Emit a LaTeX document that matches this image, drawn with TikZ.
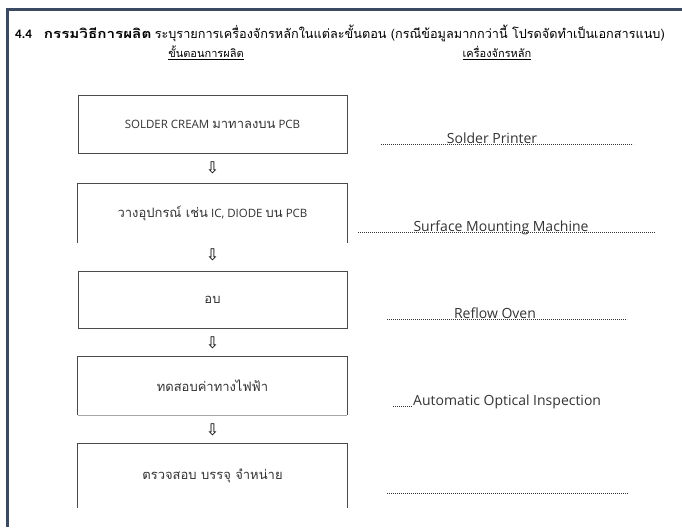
\documentclass[tikz,border=0pt]{standalone}
\usepackage{fontspec}
\usepackage{graphicx}
\setmainfont{Open Sans}
\newfontfamily\thaifont[Script=Thai]{Loma}
\newfontfamily\symfont{DejaVu Sans}
\newfontfamily\titlelat{Carlito}
\definecolor{frame}{HTML}{3B4A63}
\definecolor{boxline}{HTML}{4A4A4A}
\definecolor{txt}{HTML}{333333}
\newcommand{\thtxt}[1]{{\thaifont\fontsize{13}{15}\selectfont #1}}
\tikzset{
  stepbox/.style={minimum width=269pt, minimum height=58pt, inner sep=0pt, text=txt, font=\fontsize{11.5}{14}\selectfont},
  closedbox/.style={stepbox, draw=boxline, line width=0.9pt},
  openbox/.style={stepbox},
  flowarrow/.style={inner sep=0pt, font=\symfont\fontsize{16}{17}\selectfont, text=black},
  leader/.style={dash pattern=on 0.8pt off 1.2pt, line width=0.7pt, color=txt},
  machine/.style={anchor=base, inner sep=0pt, text=txt, font=\fontsize{14}{16}\selectfont},
  hdr/.style={inner sep=0pt, font=\thaifont\fontsize{11}{13}\selectfont, text=black}
}
\begin{document}
\begin{tikzpicture}[x=1pt,y=-1pt]
\useasboundingbox (0,0) rectangle (682,527);
\fill[white] (0,0) rectangle (682,527);
% frame
\draw[frame, line width=3pt] (7.5,527) -- (7.5,10) -- (682,10);
% title
\node[anchor=west, inner sep=0pt, font=\fontsize{12.7}{14}\selectfont] (title) at (15,33)
  {{\titlelat\bfseries\fontsize{13}{14}\selectfont 4.4}\hspace{12pt}\scalebox{1.2}[1]{\thaifont\bfseries กรรมวิธีการผลิต} {\thaifont ระบุรายการเครื่องจักรหลักในแต่ละขั้นตอน (กรณีข้อมูลมากกว่านี้ โปรดจัดทำเป็นเอกสารแนบ)}};
\node[hdr] (h1) at (206,53) {\underline{ขั้นตอนการผลิต}};
\node[hdr] (h2) at (497,53) {\underline{เครื่องจักรหลัก}};
% steps
\node[closedbox] (b1) at (212.5,124.5) {SOLDER CREAM \thtxt{มาทาลงบน} PCB};
\node[openbox, minimum height=59pt] (b2) at (212.5,213) {\thtxt{วางอุปกรณ์ เช่น} IC, DIODE \thtxt{บน} PCB};
\node[closedbox, minimum height=57pt] (b3) at (212.5,299.5) {\thtxt{อบ}};
\node[stepbox, minimum height=58pt] (b4) at (212.5,386) {\thtxt{ทดสอบค่าทางไฟฟ้า}};
\node[openbox, minimum height=64pt] (b5) at (212.5,476) {\thtxt{ตรวจสอบ บรรจุ จำหน่าย}};
\draw[boxline, line width=0.9pt] (b2.south west) -- (b2.north west) -- (b2.north east) -- (b2.south east);
\draw[boxline, line width=0.9pt] (b4.south west) -- (b4.north west) -- (b4.north east) -- (b4.south east);
\draw[black!35, line width=0.9pt] (b4.south west) -- (b4.south east);
\draw[boxline, line width=0.9pt] (b5.south west) -- (b5.north west) -- (b5.north east) -- (b5.south east);
\node[flowarrow] (a1) at (212.5,168) {⇩};
\node[flowarrow] (a2) at (212.5,255) {⇩};
\node[flowarrow] (a3) at (212.5,343) {⇩};
\node[flowarrow] (a4) at (212.5,430) {⇩};
% machines
\coordinate (l1s) at (381,144); \coordinate (l1e) at (633,144);
\coordinate (l2s) at (358,232); \coordinate (l2e) at (655,232);
\coordinate (l3s) at (387,319); \coordinate (l3e) at (627,319);
\coordinate (l4s) at (393,406); \coordinate (l4e) at (412,406);
\coordinate (l5s) at (387,493); \coordinate (l5e) at (628,493);
\draw[leader] (l1s) -- (l1e);
\draw[leader] (l2s) -- (l2e);
\draw[leader] (l3s) -- (l3e);
\draw[leader] (l4s) -- (l4e);
\draw[leader] (l5s) -- (l5e);
\node[machine] (m1) at (492,143) {Solder Printer};
\node[machine] (m2) at (501,231) {Surface Mounting Machine};
\node[machine] (m3) at (495,318) {Reflow Oven};
\node[machine, anchor=base west] (m4) at (413,405) {Automatic Optical Inspection};
\end{tikzpicture}
\end{document}
